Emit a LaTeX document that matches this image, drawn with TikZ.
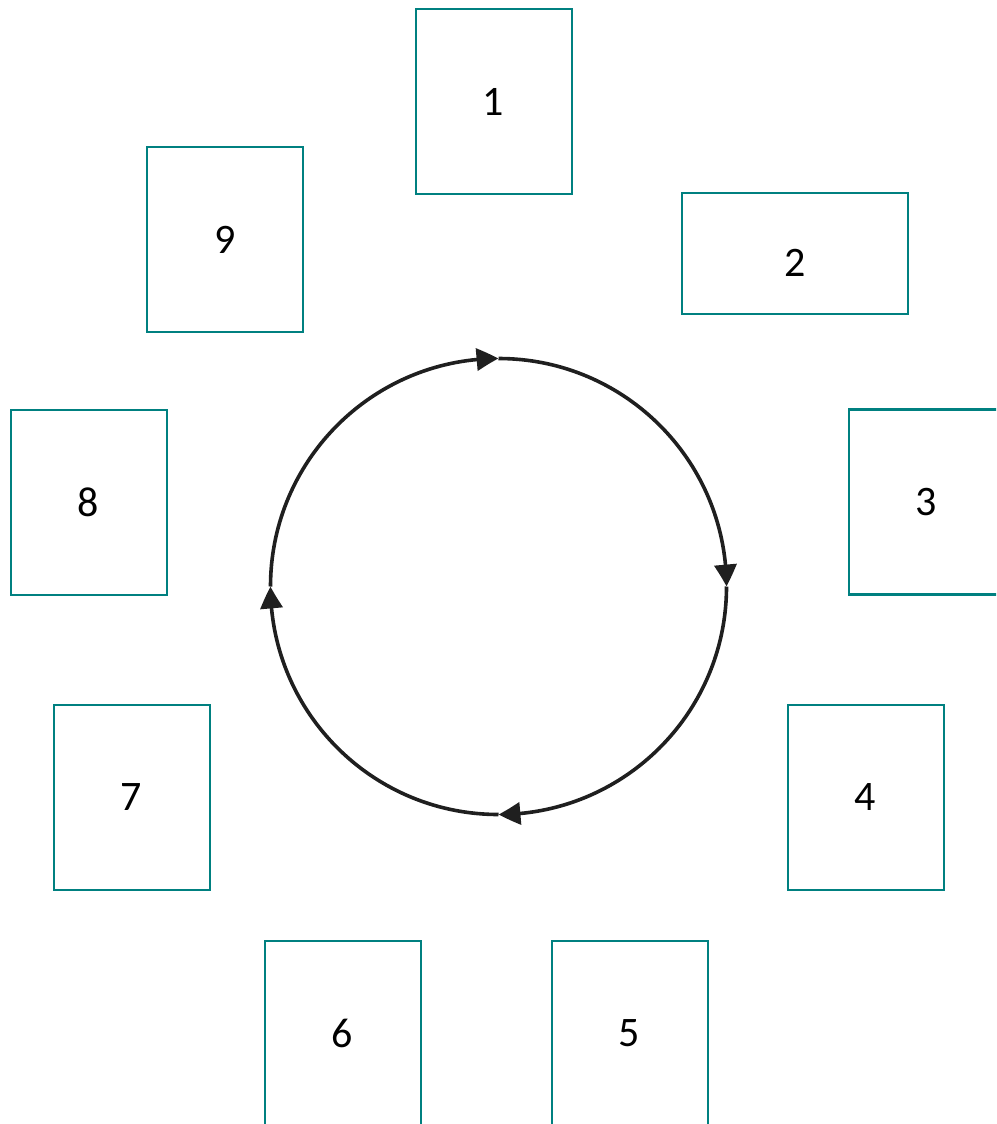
\documentclass[tikz,border=0pt]{standalone}
\usepackage{fontspec}
\setmainfont{Carlito}
\usetikzlibrary{arrows.meta,bending}
\definecolor{boxteal}{RGB}{0,128,128}
\begin{document}
\begin{tikzpicture}[x=1pt,y=-1pt,
  card/.style={draw=boxteal,line width=2.6pt,fill=none,inner sep=0pt,minimum width=156pt,minimum height=185pt},
  numtxt/.style={inner sep=0pt,font=\fontsize{42}{50}\selectfont},
  cyc/.style={line width=3.6pt,draw=black!88,-{Triangle[length=22pt,width=22pt,bend]}}]
\useasboundingbox (0,0) rectangle (996,1124);
\clip (0,0) rectangle (996,1124);
% boxes
\node[card] (b1) at (494,101.5) {};
\node[card,minimum width=226pt,minimum height=121pt] (b2) at (795,253.5) {};
\node[card] (b3) at (927,502) {};
\node[card] (b4) at (866,797.5) {};
\node[card] (b5) at (630,1033.5) {};
\node[card] (b6) at (343,1033.5) {};
\node[card] (b7) at (132,797.5) {};
\node[card] (b8) at (89,502.5) {};
\node[card] (b9) at (225,239.5) {};
% labels
\node[numtxt] (t1) at (493,102) {1};
\node[numtxt] (t2) at (795,263) {2};
\node[numtxt] (t3) at (926,502) {3};
\node[numtxt] (t4) at (865,797) {4};
\node[numtxt] (t5) at (629,1033) {5};
\node[numtxt] (t6) at (342,1033) {6};
\node[numtxt] (t7) at (131,797) {7};
\node[numtxt] (t8) at (88,502) {8};
\node[numtxt] (t9) at (225,240) {9};
% cycle
\coordinate (cc) at (498.5,586.5);
\coordinate (ctop) at (498.5,358.5);
\coordinate (cright) at (726.5,586.5);
\coordinate (cbot) at (498.5,814.5);
\coordinate (cleft) at (270.5,586.5);
\draw[cyc] (cleft) arc[start angle=180,end angle=90,x radius=228,y radius=-228];
\draw[cyc] (ctop) arc[start angle=90,end angle=0,x radius=228,y radius=-228];
\draw[cyc] (cright) arc[start angle=0,end angle=-90,x radius=228,y radius=-228];
\draw[cyc] (cbot) arc[start angle=-90,end angle=-180,x radius=228,y radius=-228];
\end{tikzpicture}
\end{document}
